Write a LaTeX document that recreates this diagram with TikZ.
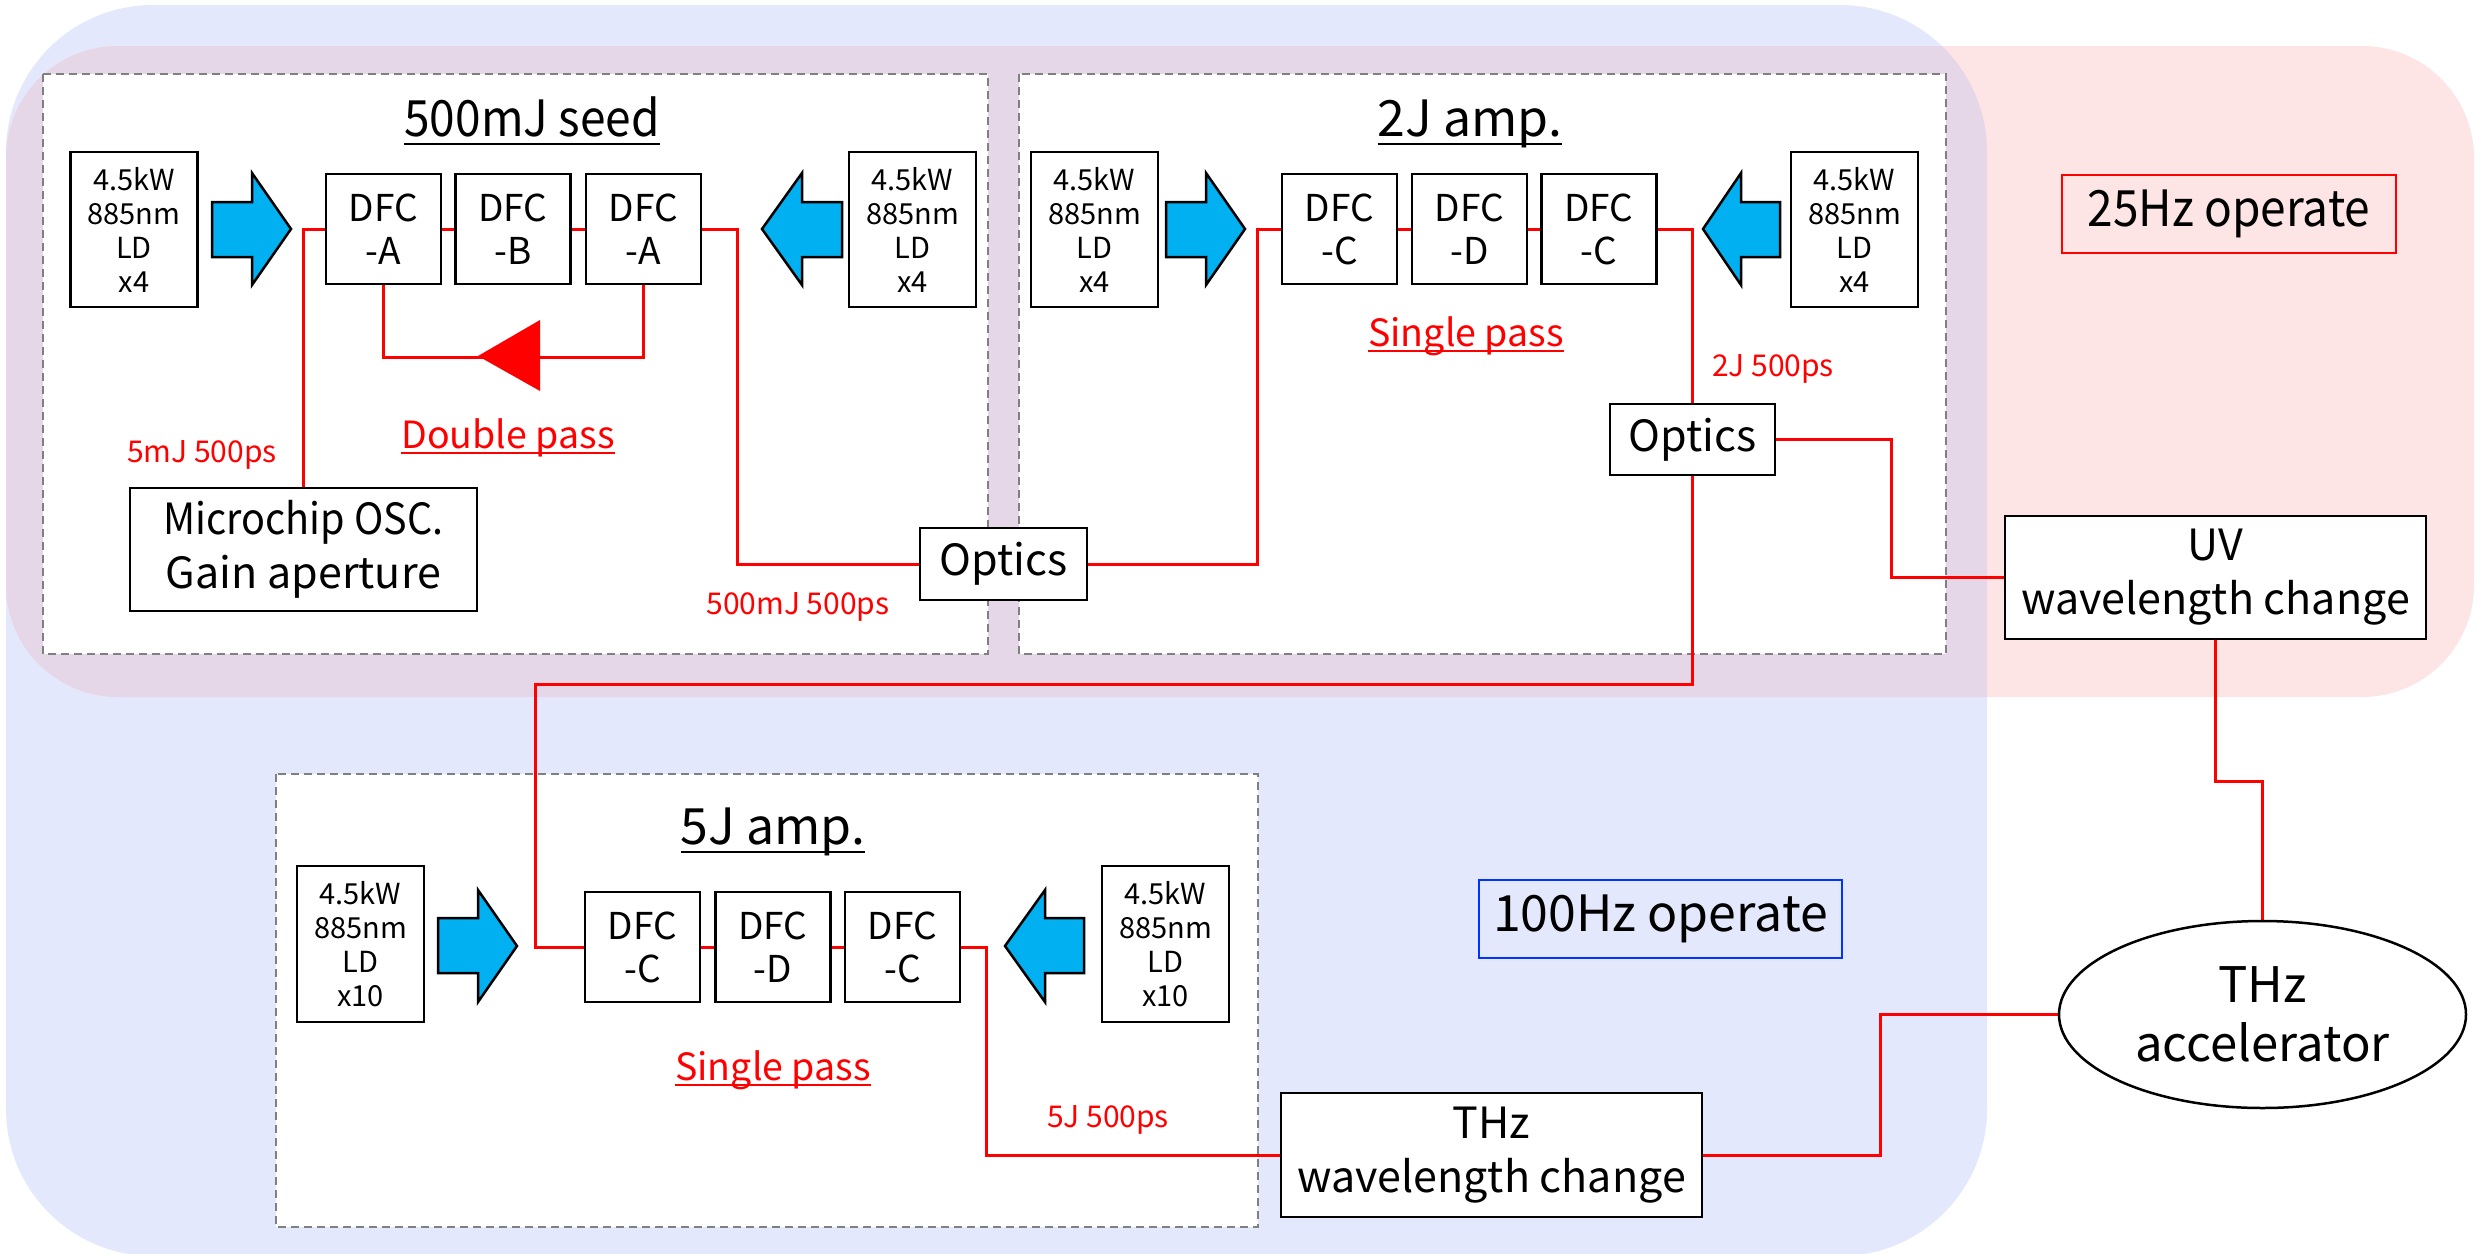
\documentclass[tikz,border=0pt]{standalone}
\usepackage{fontspec}
\setmainfont{Noto Sans CJK JP}
\newfontfamily\narrowfnt{Noto Sans CJK JP}[FakeStretch=0.92]
\usetikzlibrary{calc,shapes.geometric}
\definecolor{bgblue}{RGB}{228,232,252}
\definecolor{bgpink}{RGB}{253,229,229}
\definecolor{bgmix}{RGB}{229,214,232}
\definecolor{arrowblue}{RGB}{0,176,240}
\definecolor{lred}{RGB}{255,0,0}
\definecolor{hzblue}{RGB}{0,51,255}
\definecolor{dashgray}{RGB}{128,128,128}
\pgfdeclarelayer{back}
\pgfdeclarelayer{wires}
\pgfsetlayers{back,wires,main}
\tikzset{
  nbox/.style={draw=black, line width=2.5pt, fill=white, inner sep=0pt, align=center},
  ldbox/.style={nbox, minimum width=127pt, minimum height=155pt, font=\fontsize{29}{34}\selectfont},
  dfcbox/.style={nbox, minimum width=115pt, minimum height=110pt, font=\fontsize{37}{43}\selectfont},
  bigbox/.style={nbox, font=\fontsize{43}{54}\selectfont},
  conn/.style={draw=lred, line width=3pt},
  pump/.style={fill=arrowblue, draw=black, line width=2.5pt, line join=miter},
  grp/.style={draw=dashgray, dash pattern=on 8pt off 5pt, line width=2pt, fill=white},
  redlabel/.style={text=lred, font=\fontsize{30}{33}\selectfont, inner sep=0pt, anchor=base},
  ttl/.style={font=\fontsize{50}{56}\selectfont, inner sep=0pt, anchor=base},
  passlbl/.style={text=lred, font=\fontsize{37.5}{42}\selectfont, inner sep=0pt, anchor=base},
  uline/.style={line width=2.5pt},
  opbox/.style={line width=2.5pt, inner sep=0pt, minimum height=78pt, font=\fontsize{50}{56}\selectfont}
}
\begin{document}
\begin{tikzpicture}[x=1pt, y=-1pt]
\useasboundingbox (0,0) rectangle (2479,1253);
\begin{pgfonlayer}{back}
  \fill[white] (0,0) rectangle (2479,1253);
  \fill[bgblue, rounded corners=147pt] (6,5) rectangle (1987,1256);
  \fill[bgpink, rounded corners=112pt] (6,46) rectangle (2474,697);
  \begin{scope}
    \clip[rounded corners=147pt] (6,5) rectangle (1987,1256);
    \fill[bgmix, rounded corners=112pt] (6,46) rectangle (2474,697);
  \end{scope}
  \draw[grp] (43,74) rectangle (988,654);
  \draw[grp] (1019,74) rectangle (1946,654);
  \draw[grp] (276,774) rectangle (1258,1227);
\end{pgfonlayer}

% titles
\node[ttl, font=\fontsize{50}{56}\narrowfnt] (t1) at (532,136) {500mJ seed};
\node[ttl] (t2) at (1470,136) {2J amp.};
\node[ttl] (t3) at (773,844) {5J amp.};
\draw[uline] ([yshift=-8pt]t1.base west) -- ([yshift=-8pt]t1.base east);
\draw[uline] ([yshift=-8pt]t2.base west) -- ([yshift=-8pt]t2.base east);
\draw[uline] ([yshift=-8pt]t3.base west) -- ([yshift=-8pt]t3.base east);

% LD boxes
\node[ldbox] (ld1a) at (134,229.5) {4.5kW\\885nm\\LD\\x4};
\node[ldbox] (ld1b) at (912.5,229.5) {4.5kW\\885nm\\LD\\x4};
\node[ldbox] (ld2a) at (1094.5,229.5) {4.5kW\\885nm\\LD\\x4};
\node[ldbox] (ld2b) at (1854.5,229.5) {4.5kW\\885nm\\LD\\x4};
\node[ldbox, minimum height=156pt] (ld3a) at (360.5,944) {4.5kW\\885nm\\LD\\x10};
\node[ldbox, minimum height=156pt] (ld3b) at (1165.5,944) {4.5kW\\885nm\\LD\\x10};

% pump arrows
\draw[pump] (212,202) -- (252,202) -- (252,173) -- (291,229) -- (252,285) -- (252,257) -- (212,257) -- cycle;
\draw[pump] (842,202) -- (802,202) -- (802,173) -- (762,229) -- (802,285) -- (802,257) -- (842,257) -- cycle;
\draw[pump] (1166,202) -- (1206,202) -- (1206,173) -- (1245,229) -- (1206,285) -- (1206,257) -- (1166,257) -- cycle;
\draw[pump] (1780,202) -- (1741,202) -- (1741,173) -- (1703,229) -- (1741,285) -- (1741,257) -- (1780,257) -- cycle;
\draw[pump] (438,918) -- (478,918) -- (478,890) -- (517,946) -- (478,1002) -- (478,973) -- (438,973) -- cycle;
\draw[pump] (1084,918) -- (1045,918) -- (1045,890) -- (1005,946) -- (1045,1002) -- (1045,973) -- (1084,973) -- cycle;

% DFC boxes
\node[dfcbox] (dfca1) at (383.5,229) {DFC\\-A};
\node[dfcbox] (dfcb) at (513,229) {DFC\\-B};
\node[dfcbox] (dfca2) at (643.5,229) {DFC\\-A};
\node[dfcbox] (dfcc1) at (1339.5,229) {DFC\\-C};
\node[dfcbox] (dfcd) at (1469.5,229) {DFC\\-D};
\node[dfcbox] (dfcc2) at (1599,229) {DFC\\-C};
\node[dfcbox] (dfc5c1) at (642.5,947) {DFC\\-C};
\node[dfcbox] (dfc5d) at (773,947) {DFC\\-D};
\node[dfcbox] (dfc5c2) at (902.5,947) {DFC\\-C};

% other boxes
\node[bigbox, minimum width=347pt, minimum height=123pt] (mc) at (303.5,549.5) {{\narrowfnt Microchip OSC.}\\Gain aperture};
\node[bigbox, minimum width=167pt, minimum height=72pt] (opt1) at (1003.5,564) {Optics};
\node[bigbox, minimum width=165pt, minimum height=71pt] (opt2) at (1692.5,439.5) {Optics};
\node[bigbox, minimum width=421pt, minimum height=123pt] (uv) at (2215.5,577.5) {UV\\wavelength change};
\node[bigbox, minimum width=421pt, minimum height=124pt] (thzw) at (1491.5,1155) {THz\\wavelength change};
\node[draw=black, line width=2.5pt, fill=white, ellipse, inner sep=0pt, minimum width=407pt, minimum height=187pt, align=center, font=\fontsize{49}{59}\selectfont] (acc) at (2262.5,1014.5) {THz\\accelerator};

\node[opbox, draw=lred, minimum width=334pt, font=\fontsize{50}{56}\narrowfnt] (hz25) at (2229,214) {25Hz operate};
\node[opbox, draw=hzblue, minimum width=363pt] (hz100) at (1660.5,919) {100Hz operate};

% labels
\node[passlbl] (dp) at (508,448) {Double pass};
\draw[uline, lred] ([yshift=-5pt]dp.base west) -- ([yshift=-5pt]dp.base east);
\node[passlbl] (sp2) at (1466,346) {Single pass};
\draw[uline, lred] ([yshift=-5pt]sp2.base west) -- ([yshift=-5pt]sp2.base east);
\node[passlbl] (sp3) at (773,1080) {Single pass};
\draw[uline, lred] ([yshift=-5pt]sp3.base west) -- ([yshift=-5pt]sp3.base east);

\node[redlabel] (l5mj) at (202,462) {5mJ 500ps};
\node[redlabel] (l500mj) at (798,614) {500mJ 500ps};
\node[redlabel] (l2j) at (1773,376) {2J 500ps};
\node[redlabel] (l5j) at (1108,1127) {5J 500ps};

% connectors
\begin{pgfonlayer}{wires}
  \draw[conn] (mc.north) |- (dfca1.west);
  \draw[conn] (dfca1.east) -- (dfcb.west);
  \draw[conn] (dfcb.east) -- (dfca2.west);
  \draw[conn] (dfca1.south) -- ++(0,72) -| (dfca2.south);
  \fill[lred] (478,356) -- (540,320) -- (540,391) -- cycle;
  \draw[conn] (dfca2.east) -- ++(35,0) |- (opt1.west);
  \draw[conn] (opt1.east) -| ($(dfcc1.west)+(-23,0)$) -- (dfcc1.west);
  \draw[conn] (dfcc1.east) -- (dfcd.west);
  \draw[conn] (dfcd.east) -- (dfcc2.west);
  \draw[conn] (dfcc2.east) -| (opt2.north);
  \draw[conn] (opt2.east) -- ++(115,0) |- (uv.west);
  \draw[conn] (opt2.south) -- ++(0,208) -| ($(dfc5c1.west)+(-48,0)$) -- (dfc5c1.west);
  \draw[conn] (dfc5c1.east) -- (dfc5d.west);
  \draw[conn] (dfc5d.east) -- (dfc5c2.west);
  \draw[conn] (dfc5c2.east) -- ++(25,0) |- (thzw.west);
  \draw[conn] (thzw.east) -- ++(177,0) |- (acc.west);
  \draw[conn] (uv.south) -- ++(0,141) -| (acc.north);
\end{pgfonlayer}
\end{tikzpicture}
\end{document}
